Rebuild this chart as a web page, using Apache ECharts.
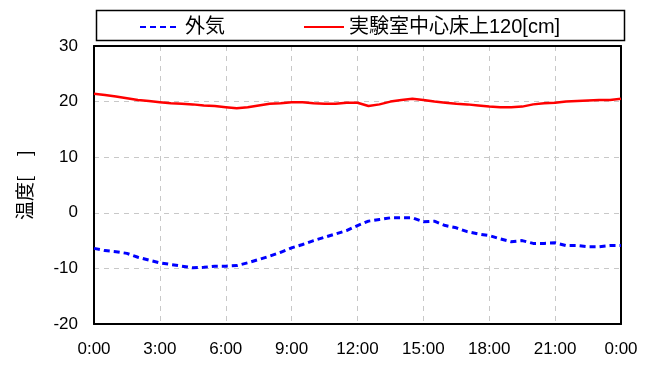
<!DOCTYPE html>
<html>
<head>
<meta charset="utf-8">
<script src="https://cdn.jsdelivr.net/npm/echarts@6/dist/echarts.min.js"></script>
<style>
  html, body { margin: 0; padding: 0; background: #fff; }
  #chart { width: 653px; height: 367px; }
</style>
</head>
<body>
<div id="chart"></div>
<script>
// Hours of the day (half-hour steps)
const hours = [0, 0.5, 1, 1.5, 2, 2.5, 3, 3.5, 4, 4.5, 5, 5.5, 6, 6.5, 7, 7.5, 8, 8.5, 9, 9.5,
  10, 10.5, 11, 11.5, 12, 12.5, 13, 13.5, 14, 14.5, 15, 15.5, 16, 16.5, 17, 17.5, 18, 18.5, 19, 19.5,
  20, 20.5, 21, 21.5, 22, 22.5, 23, 23.5, 24];

// Outdoor air temperature [°C]
const outdoor = [-6.4, -6.8, -7.0, -7.3, -8.0, -8.5, -9.0, -9.3, -9.6, -9.9, -9.8, -9.6, -9.6, -9.5, -9.0, -8.4, -7.8, -7.1, -6.3, -5.7,
  -5.0, -4.4, -3.8, -3.2, -2.3, -1.5, -1.2, -0.9, -0.9, -0.9, -1.6, -1.5, -2.3, -2.7, -3.4, -3.8, -4.1, -4.7, -5.2, -5.0,
  -5.5, -5.5, -5.4, -5.9, -5.9, -6.1, -6.1, -5.9, -5.9];

// Lab room centre, 120 cm above floor [°C]
const room = [21.4, 21.2, 20.9, 20.6, 20.3, 20.1, 19.9, 19.7, 19.6, 19.5, 19.3, 19.2, 19.0, 18.8, 19.0, 19.3, 19.6, 19.7, 19.9, 19.9,
  19.7, 19.6, 19.6, 19.8, 19.8, 19.2, 19.5, 20.0, 20.3, 20.5, 20.3, 20.0, 19.8, 19.6, 19.5, 19.3, 19.1, 19.0, 19.0, 19.1,
  19.5, 19.7, 19.8, 20.0, 20.1, 20.2, 20.3, 20.3, 20.5];

const seriesNames = ['外気', '実験室中心床上120[cm]'];
const yTicks = { min: -20, max: 30, interval: 10 };
const xTicks = { min: 0, max: 24, interval: 3 };
const yName = '温度[　]';

const FONT = 'Liberation Sans, Arial, Noto Sans CJK JP, sans-serif';
const GRID_LINE = { show: true, lineStyle: { color: '#c8c8c8', type: [5, 5], width: 1 } };
const FRAME = { show: true, onZero: false, lineStyle: { color: '#000', width: 2 } };

const chart = echarts.init(document.getElementById('chart'), null, { renderer: 'canvas' });

const pairs = (vals) => hours.map((h, i) => [h, vals[i]]);

// plain frame axes for the top and right edges of the plot box
const frameAxis = (extra) => Object.assign({
  type: 'value',
  axisLine: FRAME,
  axisTick: { show: false },
  axisLabel: { show: false },
  splitLine: { show: false }
}, extra);

chart.setOption({
  animation: false,
  backgroundColor: '#fff',
  textStyle: { fontFamily: FONT },
  graphic: [{
    type: 'rect',
    left: 94, top: 8,
    shape: { width: 528, height: 30 },
    style: { fill: 'none', stroke: '#000', lineWidth: 1.5 },
    z: 0
  }],
  legend: {
    top: 12,
    left: 134,
    itemGap: 78,
    itemWidth: 40,
    itemHeight: 14,
    itemStyle: { opacity: 0 },
    textStyle: { fontSize: 20, color: '#000', fontFamily: FONT },
    data: seriesNames
  },
  grid: {
    left: 94, right: 32, top: 46, bottom: 43,
    containLabel: false
  },
  xAxis: [{
    type: 'value',
    position: 'bottom',
    min: xTicks.min, max: xTicks.max, interval: xTicks.interval,
    axisLine: FRAME,
    axisTick: { show: false },
    axisLabel: {
      fontSize: 17, color: '#000', margin: 17, fontFamily: FONT,
      formatter: (v) => (v % 24) + ':00'
    },
    splitLine: GRID_LINE
  }, frameAxis({ position: 'top', min: xTicks.min, max: xTicks.max })],
  yAxis: [{
    type: 'value',
    position: 'left',
    min: yTicks.min, max: yTicks.max, interval: yTicks.interval,
    name: yName,
    nameLocation: 'middle',
    nameGap: 60,
    nameRotate: 90,
    nameTextStyle: { fontSize: 19, color: '#000', fontFamily: 'Noto Sans CJK JP, sans-serif' },
    axisLine: FRAME,
    axisTick: { show: false },
    axisLabel: { fontSize: 17, color: '#000', margin: 16, fontFamily: FONT },
    splitLine: GRID_LINE
  }, frameAxis({ position: 'right', min: yTicks.min, max: yTicks.max })],
  series: [
    {
      name: seriesNames[0],
      type: 'line',
      data: pairs(outdoor),
      showSymbol: false,
      symbol: 'none',
      color: '#0000ff',
      lineStyle: { color: '#0000ff', width: 3, type: [6, 4] },
      z: 3
    },
    {
      name: seriesNames[1],
      type: 'line',
      data: pairs(room),
      showSymbol: false,
      symbol: 'none',
      color: '#ff0000',
      lineStyle: { color: '#ff0000', width: 2.5 },
      z: 3
    }
  ]
});
</script>
</body>
</html>
